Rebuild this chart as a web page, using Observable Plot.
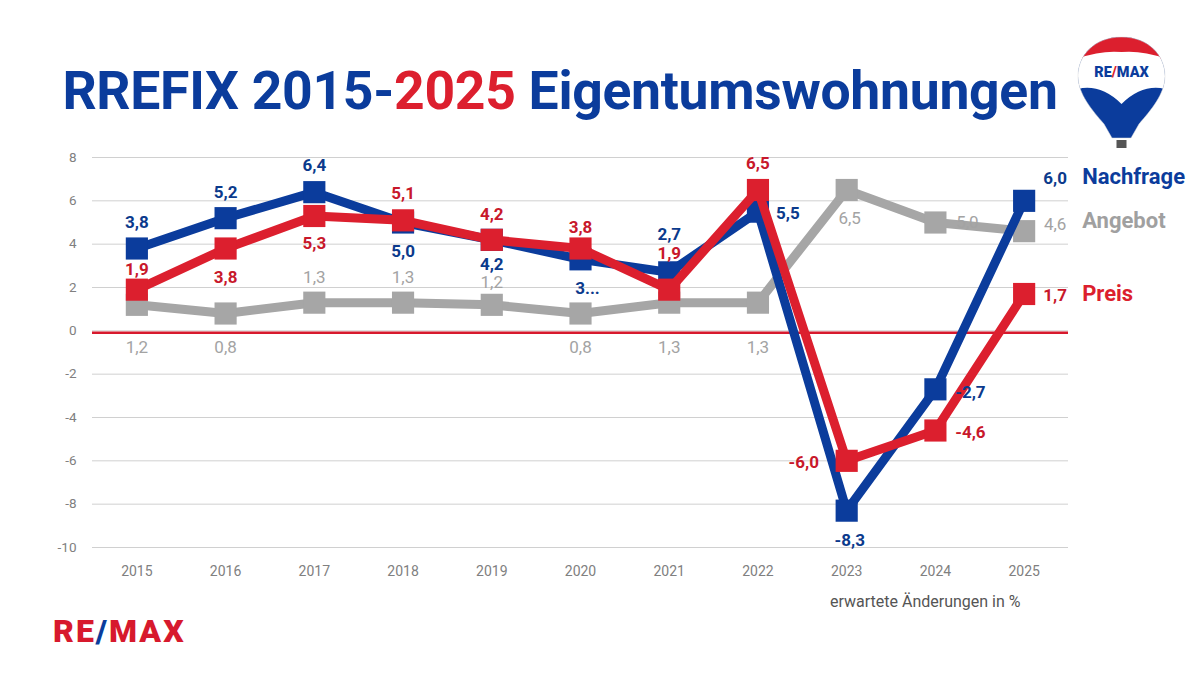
<!DOCTYPE html>
<html>
<head>
<meta charset="utf-8">
<script src="https://cdn.jsdelivr.net/npm/d3@7"></script>
<script src="https://cdn.jsdelivr.net/npm/@observablehq/plot@0.6"></script>
<style>
  html, body { margin: 0; padding: 0; background: #fff; }
  #wrap { position: relative; width: 1203px; height: 677px; overflow: hidden; font-family: Roboto, "Noto Sans", sans-serif; }
  #title { position: absolute; left: 0; width: 1120px; top: 59px; text-align: center; font-weight: 700; font-size: 53.5px; line-height: 64px; color: #0b3c9c; white-space: nowrap; letter-spacing: -0.3px; }
  #title .red { color: #dc1f2e; }
  #chart { position: absolute; left: 0; top: 140px; }
  #caption { position: absolute; left: 830px; top: 592px; font-size: 16px; color: #555; }
  #logo { position: absolute; left: 53px; top: 612px; font-weight: 900; font-size: 32px; color: #d7192d; letter-spacing: 2px; }
  #logo .b { color: #0b3c9c; }
  #balloon { position: absolute; left: 1074px; top: 32px; }
</style>
</head>
<body>
<div id="wrap">
  <div id="title">RREFIX 2015-<span class="red">2025</span> Eigentumswohnungen</div>
  <div id="chart"></div>
  <div id="caption">erwartete Änderungen in %</div>
  <div id="logo">RE<span class="b">/</span>MAX</div>
  <svg id="balloon" width="95" height="125" viewBox="0 0 95 125">
    <defs>
      <clipPath id="bc"><path d="M47.5 5 C20 5 4 24 4 44 C4 62 18 78 30 92 L38 106 L57 106 L65 92 C77 78 91 62 91 44 C91 24 75 5 47.5 5 Z"/></clipPath>
    </defs>
    <g clip-path="url(#bc)">
      <rect x="0" y="0" width="95" height="125" fill="#0b3c9c"/>
      <path d="M0 0 H95 V30 Q70 20 47.5 22 Q25 20 0 30 Z" fill="#dc1f2e"/>
      <path d="M0 28 Q25 18 47.5 20 Q70 18 95 28 V58 Q70 50 47.5 72 Q25 50 0 58 Z" fill="#fff"/>
    </g>
    <path d="M47.5 5 C20 5 4 24 4 44 C4 62 18 78 30 92 L38 106 L57 106 L65 92 C77 78 91 62 91 44 C91 24 75 5 47.5 5 Z" fill="none" stroke="#ddd" stroke-width="0.5"/>
    <text x="47.5" y="45" text-anchor="middle" font-family="Roboto, sans-serif" font-weight="900" font-size="14.5" fill="#0b3c9c">RE<tspan fill="#dc1f2e">/</tspan>MAX</text>
    <rect x="42.5" y="108" width="10" height="8" fill="#555"/>
  </svg>
</div>
<script>
// ---- data ----
const years = [2015, 2016, 2017, 2018, 2019, 2020, 2021, 2022, 2023, 2024, 2025];
const nachfrage = [3.8, 5.2, 6.4, 5.0, 4.2, 3.3, 2.7, 5.5, -8.3, -2.7, 6.0];
const preis     = [1.9, 3.8, 5.3, 5.1, 4.2, 3.8, 1.9, 6.5, -6.0, -4.6, 1.7];
const angebot   = [1.2, 0.8, 1.3, 1.3, 1.2, 0.8, 1.3, 1.3, 6.5, 5.0, 4.6];
const nachfrageText = ["3,8","5,2","6,4","5,0","4,2","3...","2,7","5,5","-8,3","-2,7","6,0"];
const preisText     = ["1,9","3,8","5,3","5,1","4,2","3,8","1,9","6,5","-6,0","-4,6","1,7"];
const angebotText   = ["1,2","0,8","1,3","1,3","1,2","0,8","1,3","1,3","6,5","5,0","4,6"];
const yTicks = [-10, -8, -6, -4, -2, 0, 2, 4, 6, 8];
const seriesNames = ["Nachfrage", "Angebot", "Preis"];

// ---- layout (label offsets in px, [dx, dy]) ----
const nachfrageOff = [[0,-26],[0,-26],[0,-27],[0,29],[0,25],[7,29],[0,-38],[30,2],[3,30],[35,3],[31,-22]];
const preisOff     = [[0,-20],[0,29],[0,28],[0,-27],[0,-25],[0,-21],[0,-36],[0,-26],[-43,2],[35,2],[31,2]];
const angebotOff   = [[0,43],[0,34],[0,-25],[0,-25],[0,-22],[0,34],[0,45],[0,45],[3,29],[32,0],[31,-7]];

const blue = "#0b3c9c", red = "#dc1f2e", gray = "#a6a6a6";
const blueText = "#0b3a8c", redText = "#c8182b", grayText = "#a3a3a3";

const mk = (vals, texts, offs, name) => years.map((y, i) => ({year: String(y), value: vals[i], label: texts[i], off: offs[i], series: name}));
const dN = mk(nachfrage, nachfrageText, nachfrageOff, seriesNames[0]);
const dA = mk(angebot, angebotText, angebotOff, seriesNames[1]);
const dP = mk(preis, preisText, preisOff, seriesNames[2]);

function labels(data, color, weight) {
  return data.map(d => Plot.text([d], {
    x: "year", y: "value", text: "label",
    dx: d.off[0], dy: d.off[1],
    fill: color, fontSize: 17, fontWeight: weight
  }));
}
function series(data, color) {
  return [
    Plot.line(data, {x: "year", y: "value", stroke: color, strokeWidth: 9, strokeLinejoin: "miter"}),
    Plot.dot(data, {x: "year", y: "value", symbol: "square", r: 12.5, fill: color, stroke: "none"})
  ];
}

const last = years.length - 1;
const legendOff = [-24, -10, 0];

const chart = Plot.plot({
  width: 1203,
  height: 460,
  marginTop: 17,
  marginBottom: 53,
  marginLeft: 92,
  marginRight: 135,
  style: {fontFamily: "Roboto, 'Noto Sans', sans-serif", background: "transparent", overflow: "visible"},
  x: {type: "point", domain: years.map(String), padding: 0.5, round: false, label: null},
  y: {domain: [-10, 8], ticks: yTicks, label: null},
  marks: [
    Plot.gridY(yTicks, {stroke: "#d0d0d0", strokeOpacity: 1, strokeWidth: 1}),
    Plot.axisX({tickSize: 0, tickPadding: 19, fontSize: 14, fill: "#808080", label: null}),
    Plot.axisY(yTicks, {tickSize: 0, tickPadding: 16, fontSize: 13.5, fill: "#808080", label: null, tickFormat: d => String(d)}),
    Plot.ruleY([0], {stroke: "#d7192d", strokeWidth: 2.5, dy: 2}),
    ...series(dA, gray),
    ...series(dN, blue),
    ...series(dP, red),
    ...labels(dA, grayText, 400),
    ...labels(dN, blueText, 700),
    ...labels(dP, redText, 700),
    ...[dN, dA, dP].map((data, k) => Plot.text([data[last]], {
      x: "year", y: "value", text: "series",
      dx: 58, dy: legendOff[k], textAnchor: "start",
      fill: [blue, "#a0a0a0", red][k], fontSize: 22, fontWeight: 700
    }))
  ]
});
document.getElementById("chart").appendChild(chart);
</script>
</body>
</html>
